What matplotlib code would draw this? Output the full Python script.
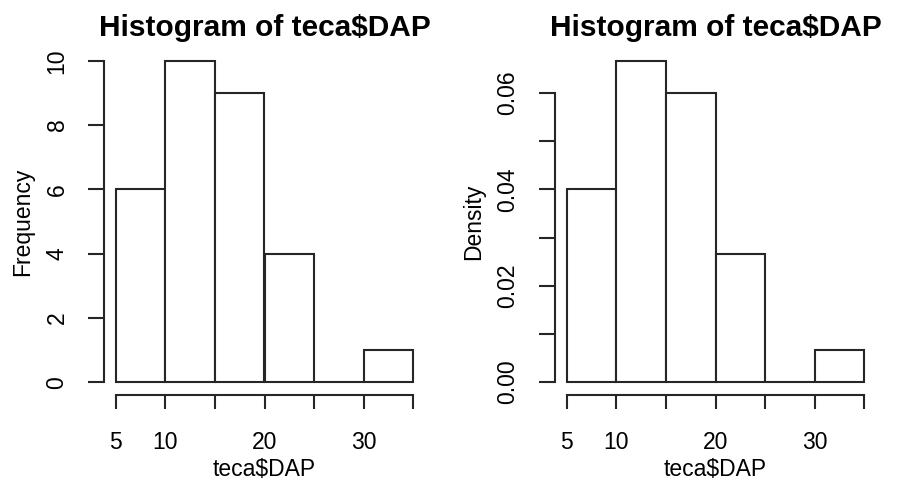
import numpy as np
import matplotlib.pyplot as plt

plt.rcParams['font.family'] = ['Liberation Sans', 'DejaVu Sans']

# histogram of teca$DAP, breaks every 5 cm
edges = [5, 10, 15, 20, 25, 30, 35]
counts = [6, 10, 9, 4, 0, 1]

edges = np.array(edges)
counts = np.array(counts)
widths = np.diff(edges)
density = counts / (counts.sum() * widths)

x_ticks = [5, 10, 15, 20, 25, 30, 35]
x_labels = ['5', '10', '', '20', '', '30', '']
freq_ticks = [0, 2, 4, 6, 8, 10]
freq_labels = ['0', '2', '4', '6', '8', '10']
dens_ticks = [0.00, 0.01, 0.02, 0.03, 0.04, 0.05, 0.06]
dens_labels = ['0.00', '', '0.02', '', '0.04', '', '0.06']

fig = plt.figure(figsize=(9, 4.83), dpi=100)
W, H = 900, 483
ink = '#262626'
fs = 16.5


def panel(left_px, heights, ylabel, yticks, ylabels, ytop):
    ax = fig.add_axes([left_px / W, (H - 395) / H, 321 / W, 347 / H])
    ax.bar(edges[:-1], heights, width=widths, align='edge',
           facecolor='white', edgecolor=ink, linewidth=1.5)
    # R-style 4% padding around the data range
    span = 30 * 0.04
    ax.set_xlim(5 - span, 35 + span)
    ax.set_ylim(-ytop * 0.04, ytop * 1.04)
    for s in ['top', 'right']:
        ax.spines[s].set_visible(False)
    ax.spines['left'].set_bounds(yticks[0], yticks[-1])
    ax.spines['bottom'].set_bounds(5, 35)
    for s in ['left', 'bottom']:
        ax.spines[s].set_linewidth(1.5)
        ax.spines[s].set_color(ink)
    ax.set_xticks(x_ticks)
    ax.set_xticklabels(x_labels)
    ax.set_yticks(yticks)
    ax.set_yticklabels(ylabels, rotation=90, va='center')
    ax.tick_params(axis='both', width=1.5, color=ink, labelsize=fs)
    ax.tick_params(axis='x', length=10, pad=16)
    ax.tick_params(axis='y', length=11.5, pad=14)
    ax.set_xlabel('teca$DAP', fontsize=fs, labelpad=3)
    ax.set_ylabel(ylabel, fontsize=fs, labelpad=8)
    ax.set_title('Histogram of teca$DAP', fontsize=21.5, fontweight='bold',
                 y=1.01)
    return ax


panel(104, counts, 'Frequency', freq_ticks, freq_labels, counts.max())
panel(555, density, 'Density', dens_ticks, dens_labels, density.max())

fig.savefig('out.png', dpi=100)
